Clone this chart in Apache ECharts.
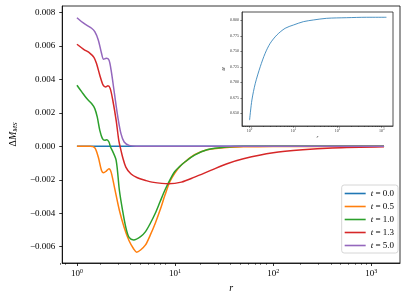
<!DOCTYPE html>
<html>
<head>
<meta charset="utf-8">
<script src="https://cdn.jsdelivr.net/npm/echarts@6/dist/echarts.min.js"></script>
<style>html,body{margin:0;padding:0;background:#fff}#c{width:407px;height:303px}</style>
</head>
<body>
<div id="c"></div>
<script>
// ---- data ----
const seriesNames = ['t=0.0', 't=0.5', 't=1.0', 't=1.3', 't=5.0'];
const colors = ['#1f77b4', '#ff7f0e', '#2ca02c', '#d62728', '#9467bd'];

const r00 = [1, 1350];
const d00 = [0, 0];

const r05 = [1.0, 1.36, 1.52, 1.65, 1.78, 1.87, 1.99, 2.12, 2.23, 2.41, 2.71, 3.03, 3.4, 3.79, 4.06, 4.45, 5.0, 5.6, 6.29, 7.05, 7.91, 8.87, 9.95, 11.2, 12.5, 15.8, 21.2, 33.6, 49.7, 100, 1350];
const d05 = [0, 0, -0.00008, -0.00064, -0.00144, -0.00158, -0.00148, -0.00134, -0.00154, -0.00244, -0.00384, -0.00485, -0.00565, -0.00614, -0.00633, -0.0062, -0.0059, -0.0053, -0.0046, -0.0038, -0.0029, -0.0021, -0.0016, -0.0012, -0.00095, -0.0005, -0.0002, -0.00007, -0.00003, -0.00001, 0];

const r10 = [1.0, 1.12, 1.26, 1.41, 1.52, 1.61, 1.71, 1.82, 1.92, 2.02, 2.12, 2.2, 2.29, 2.51, 2.71, 2.92, 3.15, 3.4, 3.79, 4.45, 5.0, 5.6, 6.29, 7.05, 7.91, 8.87, 9.95, 11.2, 12.5, 15.8, 21.2, 33.6, 50, 100, 1350];
const d10 = [0.00366, 0.00326, 0.00286, 0.00256, 0.00226, 0.00176, 0.00096, 0.00046, 0.00036, 0.0004, 0.00026, -0.00004, -0.00024, -0.00084, -0.00264, -0.00384, -0.00485, -0.00545, -0.0056, -0.0054, -0.0051, -0.0046, -0.004, -0.0033, -0.0026, -0.002, -0.0015, -0.0012, -0.00095, -0.00052, -0.0002, -0.00004, 0, 0, 0];

const r13 = [1.0, 1.17, 1.36, 1.49, 1.58, 1.71, 1.85, 1.96, 2.07, 2.18, 2.32, 2.51, 2.67, 2.81, 2.92, 3.15, 3.54, 4.13, 5.0, 5.82, 8.53, 11.6, 15.8, 23.1, 33.9, 49.7, 100, 200, 400, 1350];
const d13 = [0.00611, 0.00581, 0.00557, 0.00533, 0.00497, 0.00426, 0.00366, 0.00356, 0.00362, 0.00347, 0.00276, 0.00156, 0.00036, -0.00024, -0.00064, -0.00124, -0.00164, -0.00188, -0.00204, -0.00214, -0.00224, -0.00214, -0.00184, -0.00144, -0.00104, -0.00074, -0.00038, -0.0002, -0.0001, -0.00003];

const r50 = [1.0, 1.17, 1.41, 1.52, 1.65, 1.78, 1.87, 1.99, 2.12, 2.23, 2.41, 2.61, 2.81, 3.03, 3.4, 4.0, 10, 100, 1350];
const d50 = [0.0077, 0.00737, 0.00707, 0.00686, 0.00637, 0.00557, 0.00521, 0.00527, 0.00517, 0.00456, 0.00317, 0.00176, 0.00076, 0.00026, 0.00006, 0.00001, 0, 0, 0];

const rInset = [1, 1.13, 1.35, 1.75, 2.26, 2.94, 4.17, 6.42, 9.9, 16.7, 28, 56, 160, 453, 1285];
const vInset = [0.639, 0.6715, 0.6984, 0.7252, 0.7468, 0.7629, 0.7763, 0.7871, 0.7924, 0.7978, 0.8005, 0.8032, 0.8042, 0.8049, 0.8049];

const yTicks = [-0.006, -0.004, -0.002, 0, 0.002, 0.004, 0.006, 0.008];
const xDecades = [0, 1, 2, 3];
const insetYTicks = [0.65, 0.675, 0.7, 0.725, 0.75, 0.775, 0.8];

// ---- helpers ----
const FONT = 'Liberation Serif';
const lg = v => Math.log10(v);
const pairs = (r, d) => r.map((x, i) => [lg(x), d[i]]);
const minorLogs = [];
[-1, 0, 1, 2, 3].forEach(e => { for (let k = 2; k <= 9; k++) minorLogs.push(lg(k * Math.pow(10, e))); });

const mainR = [r00, r05, r10, r13, r50];
const mainD = [d00, d05, d10, d13, d50];

const fmtY = v => { const s = Math.abs(v).toFixed(3); return (v < -1e-12 ? '\u2212' : '') + s; };

const chart = echarts.init(document.getElementById('c'), null, {renderer: 'canvas'});

const series = seriesNames.map((n, i) => ({
  name: n, type: 'line', xAxisIndex: 0, yAxisIndex: 0,
  data: pairs(mainR[i], mainD[i]),
  showSymbol: false, symbol: 'none', smooth: 0.3,
  lineStyle: {color: colors[i], width: 1.5}, itemStyle: {color: colors[i]},
  z: 2 + i
}));
series.push({
  name: 'inset', type: 'line', xAxisIndex: 1, yAxisIndex: 1,
  data: pairs(rInset, vInset), showSymbol: false, symbol: 'none', smooth: 0.3,
  lineStyle: {color: '#1f77b4', width: 0.8}, z: 10
});

const option = {
  animation: false,
  grid: [
    {left: 55, top: 6, right: 7, bottom: 40, show: true, borderColor: '#000', borderWidth: 0.8, backgroundColor: 'rgba(0,0,0,0)'},
    {left: 242, top: 12, right: 14, bottom: 177, show: true, borderColor: '#222', borderWidth: 0.8, backgroundColor: '#fff'},
    {left: 55, top: 6, right: 7, bottom: 40},
    {left: 242, top: 12, right: 14, bottom: 177}
  ],
  legend: {
    data: seriesNames.map((n, i) => ({name: n, icon: 'rect', itemStyle: {color: colors[i]}})),
    orient: 'vertical', right: 9, top: 185,
    itemWidth: 21, itemHeight: 1.6, itemGap: 4,
    padding: [4, 4, 3, 3],
    backgroundColor: 'rgba(255,255,255,0.8)', borderColor: '#cccccc', borderWidth: 0.8, borderRadius: 2.5,
    formatter: name => '{i|t}{n| = ' + name.split('=')[1] + '}',
    textStyle: {
      fontFamily: FONT, fontSize: 9, color: '#000',
      rich: {i: {fontFamily: FONT, fontStyle: 'italic', fontSize: 9, height: 10}, n: {fontFamily: FONT, fontSize: 9, height: 10}}
    }
  },
  xAxis: [
    {
      type: 'value', gridIndex: 0, min: -0.15, max: 3.293, position: 'bottom',
      axisLine: {show: true, onZero: false, lineStyle: {color: '#000', width: 0.8}},
      axisTick: {show: true, customValues: xDecades, length: 3, lineStyle: {color: '#000', width: 0.8}},
      axisLabel: {
        customValues: xDecades, margin: 5, color: '#000',
        formatter: v => '{b|10}{s|' + Math.round(v) + '}',
        rich: {b: {fontFamily: FONT, fontSize: 9}, s: {fontFamily: FONT, fontSize: 6, padding: [0, 0, 6, 0]}}
      },
      splitLine: {show: false},
      name: 'r', nameLocation: 'middle', nameGap: 20,
      nameTextStyle: {fontFamily: FONT, fontStyle: 'italic', fontSize: 10, color: '#000'}
    },
    {
      type: 'value', gridIndex: 1, min: -0.172, max: 3.258, position: 'bottom',
      axisLine: {show: true, onZero: false, lineStyle: {color: '#222', width: 0.6}},
      axisTick: {show: true, customValues: xDecades, length: 1.6, lineStyle: {color: '#222', width: 0.6}},
      axisLabel: {
        customValues: xDecades, margin: 2, color: '#333',
        formatter: v => '{b|10}{s|' + Math.round(v) + '}',
        rich: {b: {fontFamily: FONT, fontSize: 4}, s: {fontFamily: FONT, fontSize: 3, padding: [0, 0, 3, 0]}}
      },
      splitLine: {show: false},
      name: 'r', nameLocation: 'middle', nameGap: 6,
      nameTextStyle: {fontFamily: FONT, fontStyle: 'italic', fontSize: 5, color: '#333'}
    },
    {
      type: 'value', gridIndex: 2, min: -0.15, max: 3.293, position: 'bottom',
      axisLine: {show: false, onZero: false},
      axisTick: {show: true, customValues: minorLogs, length: 1.8, lineStyle: {color: '#000', width: 0.6}},
      axisLabel: {show: false}, splitLine: {show: false}
    },
    {
      type: 'value', gridIndex: 3, min: -0.172, max: 3.258, position: 'bottom',
      axisLine: {show: false, onZero: false},
      axisTick: {show: true, customValues: minorLogs, length: 1, lineStyle: {color: '#222', width: 0.5}},
      axisLabel: {show: false}, splitLine: {show: false}
    }
  ],
  yAxis: [
    {
      type: 'value', gridIndex: 0, min: -0.00698, max: 0.0084,
      axisLine: {show: true, onZero: false, lineStyle: {color: '#000', width: 0.8}},
      axisTick: {show: true, customValues: yTicks, length: 3, lineStyle: {color: '#000', width: 0.8}},
      axisLabel: {customValues: yTicks, margin: 7, color: '#000', fontFamily: FONT, fontSize: 9, formatter: fmtY},
      splitLine: {show: false},
      name: '{d|\u0394}{m|M}{s|MS}', nameLocation: 'middle', nameGap: 36, nameRotate: 90,
      nameTextStyle: {
        color: '#000', fontFamily: FONT, fontSize: 10,
        rich: {
          d: {fontFamily: FONT, fontSize: 10},
          m: {fontFamily: FONT, fontSize: 10, fontStyle: 'italic'},
          s: {fontFamily: FONT, fontSize: 7, fontStyle: 'italic', padding: [5, 0, 0, 0]}
        }
      }
    },
    {
      type: 'value', gridIndex: 1, min: 0.6295, max: 0.8134,
      axisLine: {show: true, onZero: false, lineStyle: {color: '#222', width: 0.6}},
      axisTick: {show: true, customValues: insetYTicks, length: 1.6, lineStyle: {color: '#222', width: 0.6}},
      axisLabel: {customValues: insetYTicks, margin: 3, color: '#333', fontFamily: FONT, fontSize: 4, formatter: v => v.toFixed(3)},
      splitLine: {show: false},
      name: '{m|M}', nameLocation: 'middle', nameGap: 13, nameRotate: 90,
      nameTextStyle: {color: '#333', fontFamily: FONT, fontSize: 4, rich: {m: {fontFamily: FONT, fontSize: 4, fontStyle: 'italic'}}}
    },
    {type: 'value', gridIndex: 2, min: -0.00698, max: 0.0084, show: false, splitLine: {show: false}},
    {type: 'value', gridIndex: 3, min: 0.6295, max: 0.8134, show: false, splitLine: {show: false}}
  ],
  series: series
};
chart.setOption(option);
</script>
</body>
</html>
